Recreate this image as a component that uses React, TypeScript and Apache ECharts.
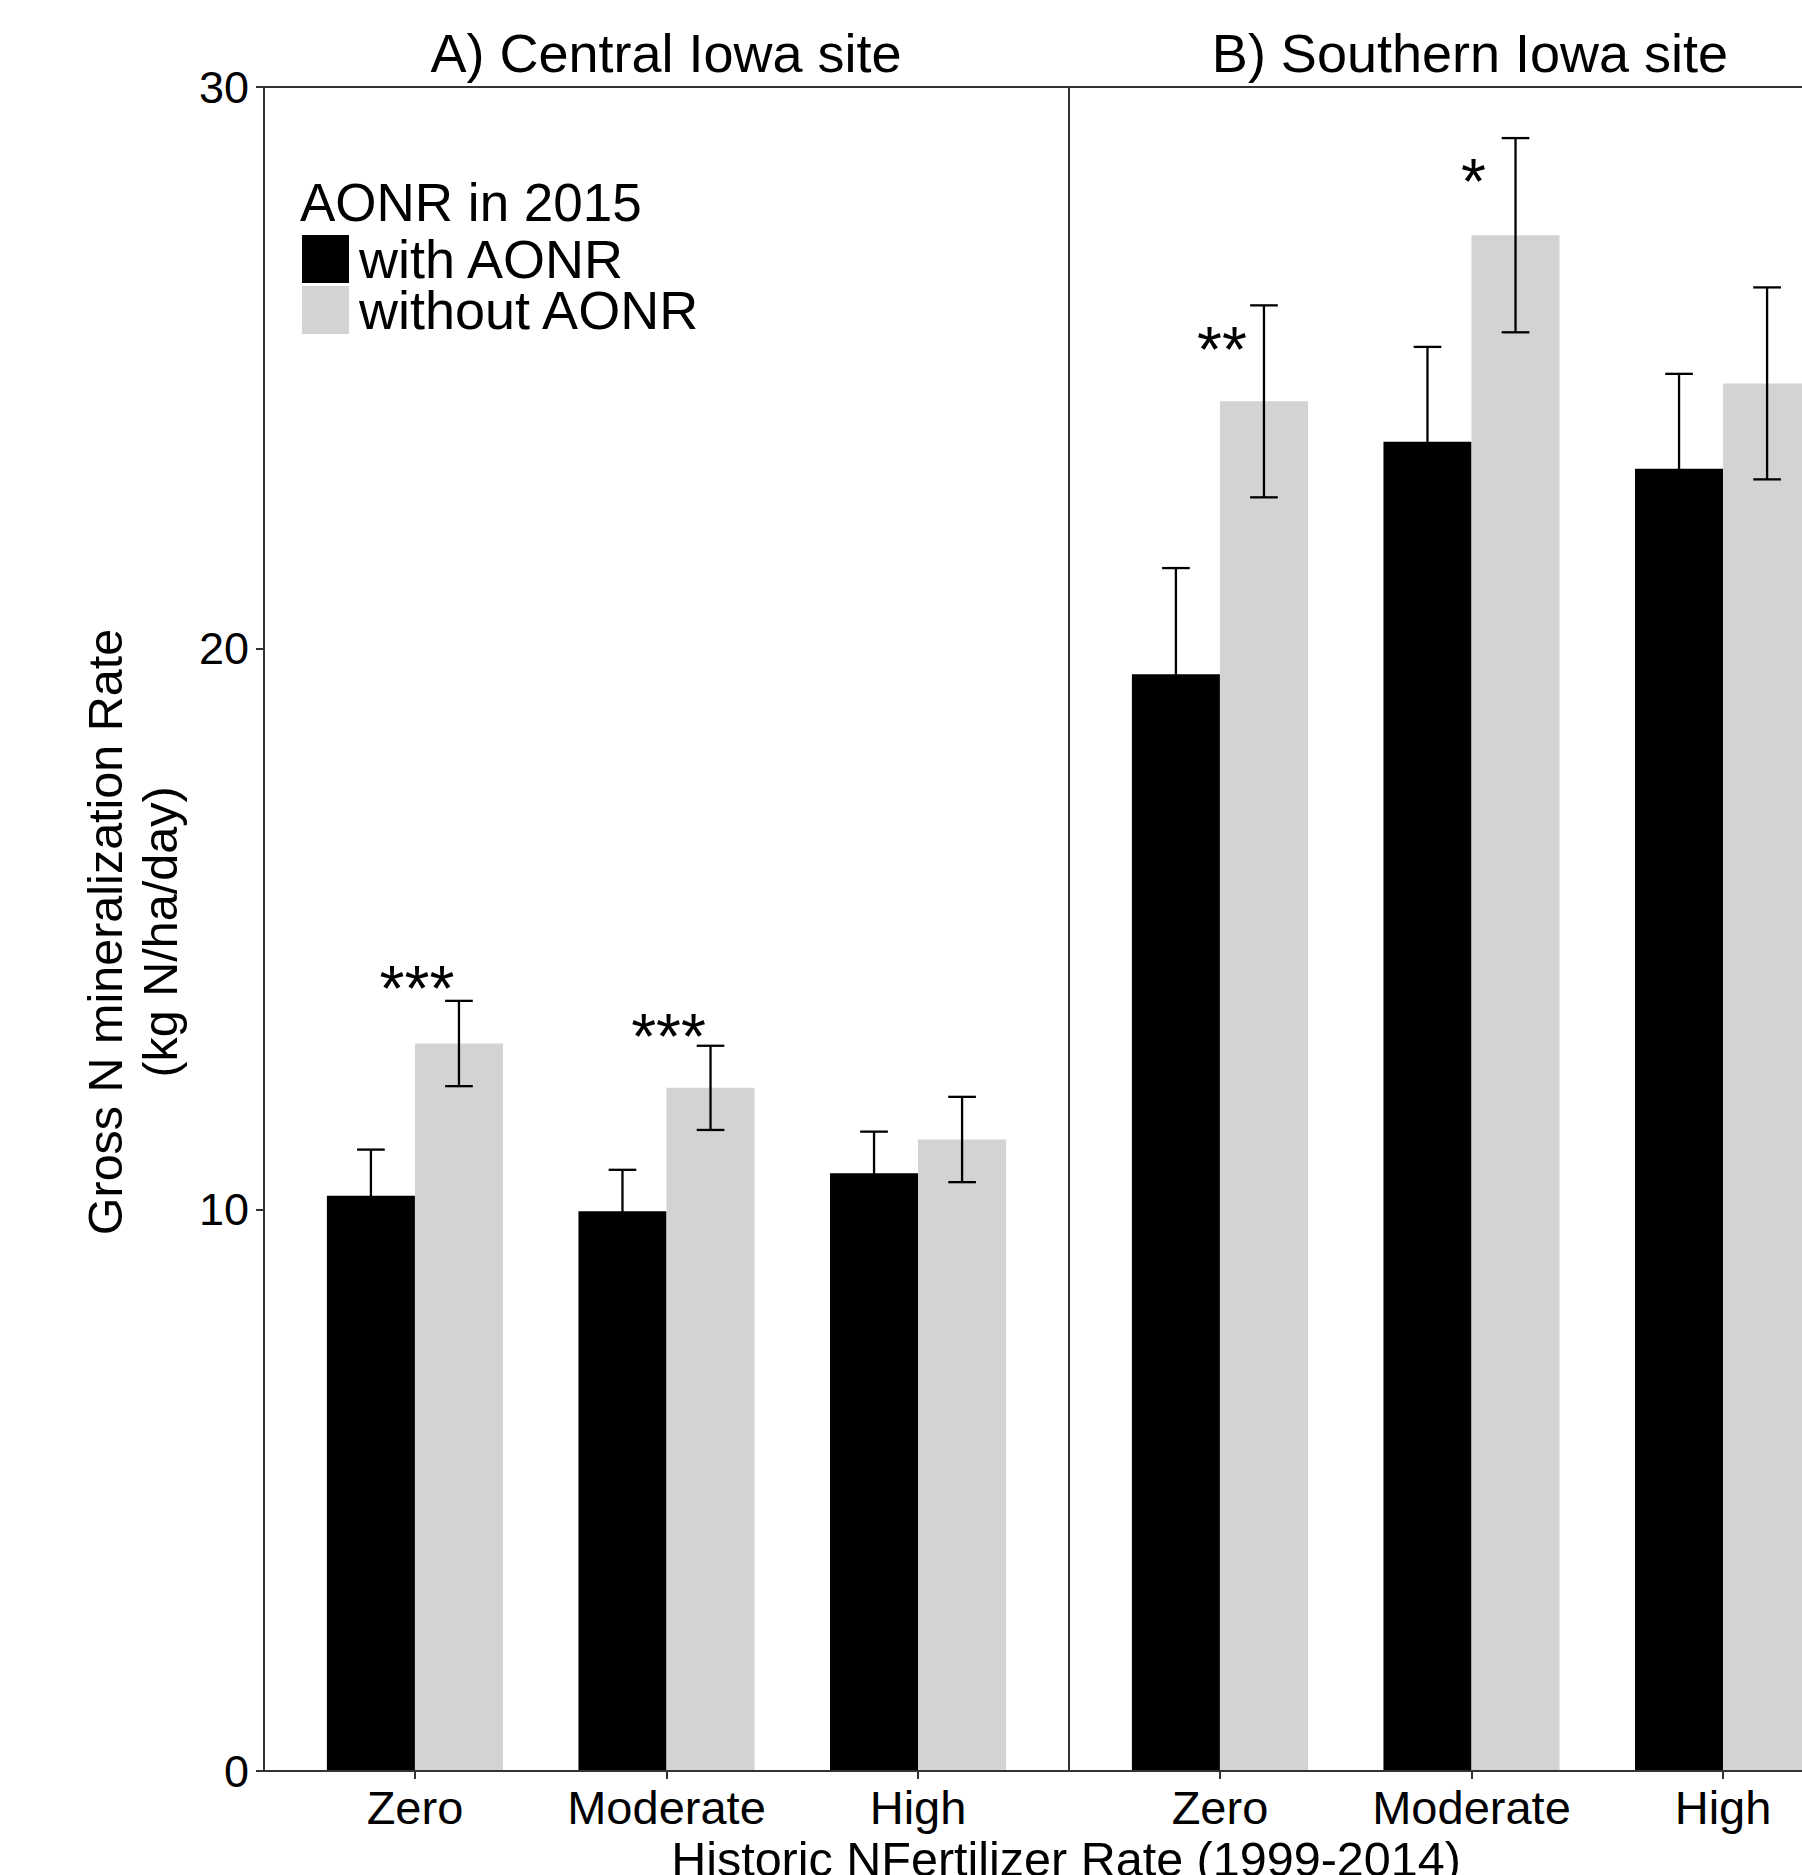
import React, { useEffect, useRef } from "react";
import * as echarts from "echarts";

const categories = ["Zero", "Moderate", "High"];
const panelTitles = ["A) Central Iowa site", "B) Southern Iowa site"];
const seriesNames = ["with AONR", "without AONR"];
const legendTitle = "AONR in 2015";
const yTitle1 = "Gross N mineralization Rate";
const yTitle2 = "(kg N/ha/day)";
const xTitle = "Historic NFertilizer Rate (1999-2014)";

const withA = [10.25, 9.97, 10.65];
const withASe = [0.82, 0.74, 0.74];
const withoutA = [12.96, 12.17, 11.25];
const withoutASe = [0.76, 0.75, 0.76];
const withB = [19.54, 23.68, 23.2];
const withBSe = [1.89, 1.69, 1.69];
const withoutB = [24.4, 27.36, 24.72];
const withoutBSe = [1.71, 1.73, 1.71];

const sigA = ["***", "***", ""];
const sigB = ["**", "*", ""];
const sigYA = [13.93, 13.08, 0];
const sigYB = [25.32, 28.3, 0];

const yMin = 0;
const yMax = 30;
const yStep = 10;

const FONT = "Liberation Sans, Arial, sans-serif";
const BLACK = "#000000";
const GREY = "#D3D3D3";
const LINE = "#333333";
const HALF = 0.35;
const CAP = 0.055;

function barSeries(name: string, values: number[], g: number, side: number, color: string) {
  return {
    type: "custom",
    name,
    xAxisIndex: g,
    yAxisIndex: g,
    z: 2,
    itemStyle: { color },
    data: values.map((v, i) => [i, v]),
    renderItem: (params: any, api: any) => {
      const x = api.value(0);
      const v = api.value(1);
      const x0 = side < 0 ? x - HALF : x;
      const x1 = side < 0 ? x : x + HALF;
      const p0 = api.coord([x0, v]);
      const p1 = api.coord([x1, 0]);
      return {
        type: "rect",
        shape: { x: p0[0], y: p0[1], width: p1[0] - p0[0], height: p1[1] - p0[1] },
        style: { fill: color },
      };
    },
  };
}

function errSeries(values: number[], ses: number[], g: number, side: number) {
  return {
    type: "custom",
    xAxisIndex: g,
    yAxisIndex: g,
    z: 3,
    silent: true,
    data: values.map((v, i) => [i, v, ses[i]]),
    renderItem: (params: any, api: any) => {
      const x = api.value(0) + side * (HALF / 2);
      const v = api.value(1);
      const se = api.value(2);
      const top = api.coord([x, v + se]);
      const bot = api.coord([x, v - se]);
      const cl = api.coord([x - CAP, v + se]);
      const cr = api.coord([x + CAP, v + se]);
      const bl = api.coord([x - CAP, v - se]);
      const br = api.coord([x + CAP, v - se]);
      const st = { stroke: "#000000", lineWidth: 2.3 };
      return {
        type: "group",
        children: [
          { type: "line", shape: { x1: top[0], y1: top[1], x2: bot[0], y2: bot[1] }, style: st },
          { type: "line", shape: { x1: cl[0], y1: cl[1], x2: cr[0], y2: cr[1] }, style: st },
          { type: "line", shape: { x1: bl[0], y1: bl[1], x2: br[0], y2: br[1] }, style: st },
        ],
      };
    },
  };
}

function sigSeries(labels: string[], ys: number[], g: number) {
  return {
    type: "custom",
    xAxisIndex: g,
    yAxisIndex: g,
    z: 4,
    silent: true,
    data: ys.map((y, i) => [i, y]),
    renderItem: (params: any, api: any) => {
      const p = api.coord([api.value(0), api.value(1)]);
      return {
        type: "text",
        x: p[0] + 2,
        y: p[1],
        style: {
          text: labels[params.dataIndex],
          fontSize: 64,
          fontFamily: FONT,
          fill: "#000",
          align: "center",
          verticalAlign: "middle",
        },
      };
    },
  };
}

function xAxisFor(g: number) {
  return {
    type: "value",
    gridIndex: g,
    min: -0.6,
    max: 2.6,
    z: 5,
    splitLine: { show: false },
    axisLine: { show: true, onZero: false, lineStyle: { color: LINE, width: 2 } },
    axisTick: { show: true, length: 8, customValues: [0, 1, 2], lineStyle: { color: LINE, width: 2 } },
    axisLabel: {
      show: true,
      customValues: [0, 1, 2],
      formatter: (v: number) => categories[Math.round(v)] ?? "",
      fontSize: 47,
      fontFamily: FONT,
      color: "#000",
      margin: 13,
    },
  };
}

function yAxisFor(g: number) {
  return {
    type: "value",
    gridIndex: g,
    min: yMin,
    max: yMax,
    interval: yStep,
    z: 5,
    splitLine: { show: false },
    axisLine: { show: true, onZero: false, lineStyle: { color: LINE, width: 2 } },
    axisTick: { show: g === 0, length: 8, lineStyle: { color: LINE, width: 2 } },
    axisLabel: {
      show: g === 0,
      fontSize: 45,
      fontFamily: FONT,
      color: "#000",
      margin: 15,
    },
  };
}

export default function App() {
  const ref = useRef<HTMLDivElement>(null);
  useEffect(() => {
    if (!ref.current) return;
    const chart = echarts.init(ref.current, null, { renderer: "svg" });
    const gridBase = {
      top: 87,
      height: 1684,
      width: 805,
      show: true,
      borderColor: LINE,
      borderWidth: 2,
      backgroundColor: "transparent",
      outerBoundsMode: "none",
    };
    chart.setOption({
      animation: false,
      backgroundColor: "#ffffff",
      grid: [
        { ...gridBase, left: 264 },
        { ...gridBase, left: 1069 },
      ],
      xAxis: [xAxisFor(0), xAxisFor(1)],
      yAxis: [yAxisFor(0), yAxisFor(1)],
      legend: {
        orient: "vertical",
        left: 302,
        top: 232,
        padding: 0,
        itemWidth: 47,
        itemHeight: 48,
        itemGap: -3,
        icon: "rect",
        selectedMode: false,
        data: seriesNames,
        textStyle: { fontSize: 54, lineHeight: 48, fontFamily: FONT, color: "#000", padding: [0, 0, 0, 5] },
      },
      graphic: [
        { type: "text", x: 666, y: 53, style: { text: panelTitles[0], fontSize: 54, fontFamily: FONT, fill: "#000", align: "center", verticalAlign: "middle" } },
        { type: "text", x: 1470, y: 53, style: { text: panelTitles[1], fontSize: 54, fontFamily: FONT, fill: "#000", align: "center", verticalAlign: "middle" } },
        { type: "text", x: 300, y: 202, style: { text: legendTitle, fontSize: 53, fontFamily: FONT, fill: "#000", align: "left", verticalAlign: "middle" } },
        { type: "text", x: 105, y: 932, rotation: Math.PI / 2, style: { text: yTitle1, fontSize: 48.5, fontFamily: FONT, fill: "#000", align: "center", verticalAlign: "middle" } },
        { type: "text", x: 160, y: 932, rotation: Math.PI / 2, style: { text: yTitle2, fontSize: 48.5, fontFamily: FONT, fill: "#000", align: "center", verticalAlign: "middle" } },
        { type: "text", x: 1066, y: 1859, style: { text: xTitle, fontSize: 48.5, fontFamily: FONT, fill: "#000", align: "center", verticalAlign: "middle" } },
      ],
      series: [
        barSeries(seriesNames[0], withA, 0, -1, BLACK),
        barSeries(seriesNames[1], withoutA, 0, 1, GREY),
        barSeries(seriesNames[0], withB, 1, -1, BLACK),
        barSeries(seriesNames[1], withoutB, 1, 1, GREY),
        errSeries(withA, withASe, 0, -1),
        errSeries(withoutA, withoutASe, 0, 1),
        errSeries(withB, withBSe, 1, -1),
        errSeries(withoutB, withoutBSe, 1, 1),
        sigSeries(sigA, sigYA, 0),
        sigSeries(sigB, sigYB, 1),
      ],
    });
    return () => chart.dispose();
  }, []);
  return (
    <div
      style={{ position: "absolute", left: 0, top: 0, width: 1802, height: 1875, overflow: "hidden", background: "#fff" }}
    >
      <div ref={ref} style={{ width: 1900, height: 1875 }} />
    </div>
  );
}
